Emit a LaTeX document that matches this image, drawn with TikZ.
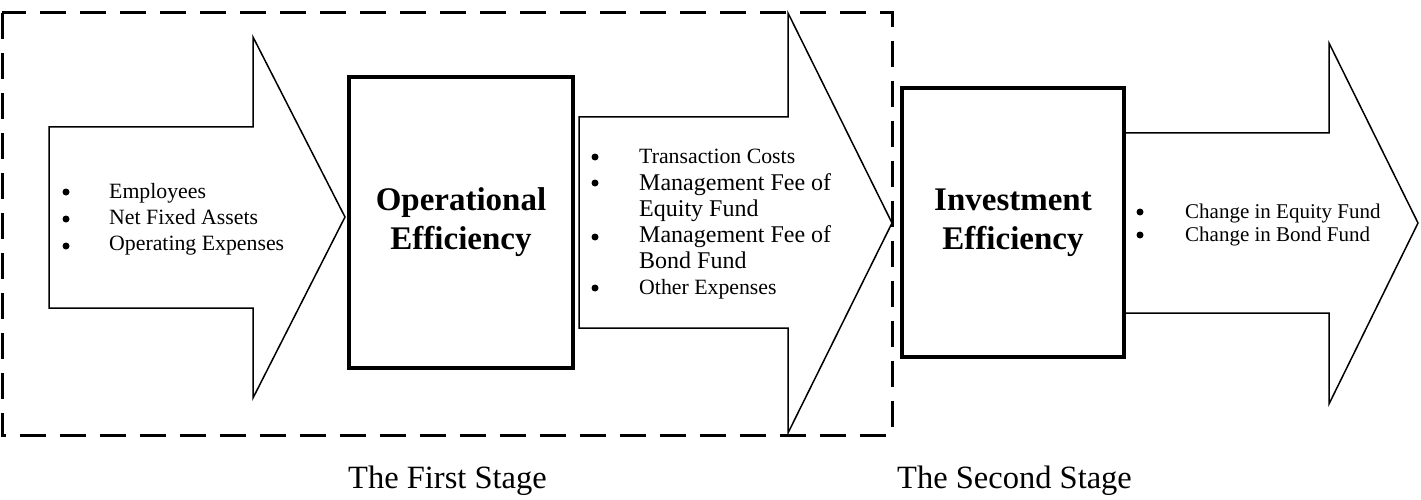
\documentclass[tikz,border=0pt]{standalone}
\usepackage{fontspec}
\setmainfont{Liberation Serif}
\begin{document}
\begin{tikzpicture}[x=1pt,y=-1pt,
  arrowshape/.style={draw=black,line width=1.5pt,fill=white,line join=miter},
  effbox/.style={draw=black,line width=3.5pt,fill=white,inner sep=0pt,align=center,
    font=\bfseries\fontsize{33}{39}\selectfont},
  item/.style={anchor=base west,inner sep=0pt,font=\fontsize{21.8}{25}\selectfont},
  itemr/.style={anchor=base west,inner sep=0pt,font=\fontsize{21}{25}\selectfont},
  bigitem/.style={anchor=base west,inner sep=0pt,font=\fontsize{24}{28}\selectfont},
  bul/.style={circle,fill=black,inner sep=0pt,minimum size=7pt},
  stagelabel/.style={anchor=base west,inner sep=0pt,font=\fontsize{32.5}{38}\selectfont},
  stagebox/.style={draw=black,line width=3pt,dash pattern=on 26pt off 14pt}]
\useasboundingbox (0,0) rectangle (1421,500);
% dashed first-stage frame
\draw[stagebox] (2,13) rectangle (892,435);
% arrow 1
\draw[arrowshape] (49,127) -- (253,127) -- (253,37) -- (345,217) -- (253,398) -- (253,308) -- (49,308) -- cycle;
% arrow 2
\draw[arrowshape] (579,117) -- (788,117) -- (788,13) -- (892,223) -- (788,433) -- (788,328) -- (579,328) -- cycle;
% arrow 3
\draw[arrowshape] (1124,133) -- (1329,133) -- (1329,43) -- (1418,223) -- (1329,404) -- (1329,313) -- (1124,313);
% boxes
\node[effbox,minimum width=224pt,minimum height=291pt] (op) at (461,222.5) {Operational\\Efficiency};
\node[effbox,minimum width=222pt,minimum height=269pt] (inv) at (1013,222.5) {Investment\\Efficiency};
% left list
\node[bul] (b1) at (66,192) {};
\node[bul] (b2) at (66,219) {};
\node[bul] (b3) at (66,246) {};
\node[item] (t1) at (109,198) {Employees};
\node[item] (t2) at (109,224) {Net Fixed Assets};
\node[item] (t3) at (109,250) {Operating Expenses};
% middle list
\node[bul] (m1) at (595,157) {};
\node[bul] (m2) at (595,183) {};
\node[bul] (m3) at (595,237) {};
\node[bul] (m4) at (595,288) {};
\node[item] (n1) at (639,164) {Transaction Costs};
\node[bigitem] (n2) at (639,190) {Management Fee of};
\node[bigitem] (n3) at (639,216) {Equity Fund};
\node[bigitem] (n4) at (639,242) {Management Fee of};
\node[bigitem] (n5) at (639,268) {Bond Fund};
\node[item] (n6) at (639,294) {Other Expenses};
% right list
\node[bul] (r1) at (1140,212) {};
\node[bul] (r2) at (1140,235) {};
\node[itemr] (s1) at (1185,218) {Change in Equity Fund};
\node[itemr] (s2) at (1185,241) {Change in Bond Fund};
% stage labels
\node[stagelabel] (st1) at (348,488) {The First Stage};
\node[stagelabel] (st2) at (897,488) {The Second Stage};
\end{tikzpicture}
\end{document}
